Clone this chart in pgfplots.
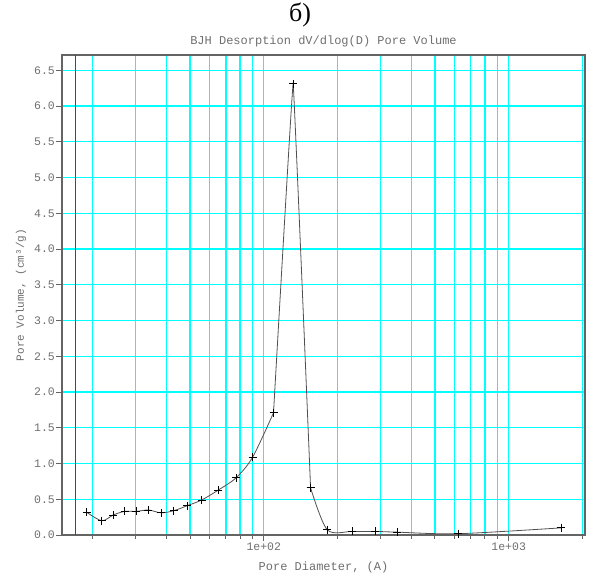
\documentclass[border=0pt]{standalone}
\usepackage{pgfplots}
\pgfplotsset{compat=1.18}
\usepackage{fontspec}
\newfontfamily\mono{Liberation Mono}
\newfontfamily\serif{Liberation Serif}
\definecolor{gridc}{RGB}{0,255,255}
\definecolor{txtc}{RGB}{110,110,110}
\definecolor{axc}{RGB}{100,100,100}
\definecolor{linec}{RGB}{80,80,80}
\definecolor{bluel}{RGB}{50,50,255}
\pgfplotstableread{
x y
18.9 0.32
21.8 0.20
24.3 0.28
27.0 0.33
30.2 0.33
33.8 0.35
38.1 0.31
42.9 0.34
48.7 0.41
55.8 0.49
65.3 0.63
77.1 0.80
90.1 1.09
109.6 1.71
}\leftpart
\pgfplotstableread{
x y
109.6 1.71
131.8 6.31
155.3 0.66
}\peakpart
\pgfplotstableread{
x y
155.3 0.66
181.6 0.074
229.7 0.05
285.9 0.05
350 0.04
621 0.018
1640 0.10
}\rightpart
\begin{document}
\begin{tikzpicture}[x=1pt,y=1pt]
\useasboundingbox (0,0) rectangle (594,581);
\node[font=\serif\fontsize{26}{26}\selectfont] at (300,566) {б)};
\begin{axis}[
  at={(62pt,46pt)}, anchor=south west,
  width=523pt, height=480pt, scale only axis,
  xmode=log, log basis x=10,
  xmin=15, xmax=2050, ymin=0, ymax=6.714,
  axis line style={draw=axc, line width=1.2pt},
  xtick={100,1000},
  xticklabels={1e+02,1e+03},
  minor xtick={20,30,40,50,60,70,80,90,100,200,300,400,500,600,700,800,900,1000,2000},
  ytick={0,0.5,...,6.5},
  minor ytick={0.5,1,...,6.5},
  yticklabel style={/pgf/number format/fixed, /pgf/number format/fixed zerofill, /pgf/number format/precision=1, inner sep=1pt},
  /pgf/number format/assume math mode=true,
  tick align=outside, xtick pos=bottom, ytick pos=left,
  major tick length=6pt, minor tick length=3.5pt,
  xminorgrids=true, yminorgrids=true,
  xmajorgrids=false, ymajorgrids=false,
  minor grid style={draw=gridc, line width=1.4pt},
  every tick/.append style={draw=axc, line width=0.9pt},
  ticklabel style={font=\mono\fontsize{11.5}{12}\selectfont, text=txtc},
  xticklabel style={inner sep=2pt},
  title={BJH Desorption dV/dlog(D) Pore Volume},
  title style={at={(axis description cs:0.5,1)}, anchor=south, yshift=-2pt, font=\mono\fontsize{12}{12}\selectfont, text=txtc},
  xlabel={Pore Diameter, (A)},
  xlabel style={at={(axis description cs:0.5,-0.0667)}, anchor=center, font=\mono\fontsize{12}{12}\selectfont, text=txtc},
  ylabel={Pore Volume, (cm³/g)},
  ylabel style={at={(axis description cs:-0.0784,0.5)}, anchor=center, font=\mono\fontsize{11}{12}\selectfont, text=txtc},
  clip=true,
]
\addplot[draw=bluel, line width=1.4pt, forget plot] coordinates {(17,0) (17,6.714)};
\addplot[draw=linec, line width=0.8pt, smooth, tension=0.5, mark=+, mark size=4pt, mark options={draw=black, solid, line width=0.8pt}] table {\leftpart};
\addplot[draw=linec, line width=0.8pt, smooth, tension=0.08, mark=+, mark size=4pt, mark options={draw=black, solid, line width=0.8pt}] table {\peakpart};
\addplot[draw=linec, line width=0.8pt, smooth, tension=0.5, mark=+, mark size=4pt, mark options={draw=black, solid, line width=0.8pt}] table {\rightpart};
\end{axis}
\end{tikzpicture}
\end{document}
